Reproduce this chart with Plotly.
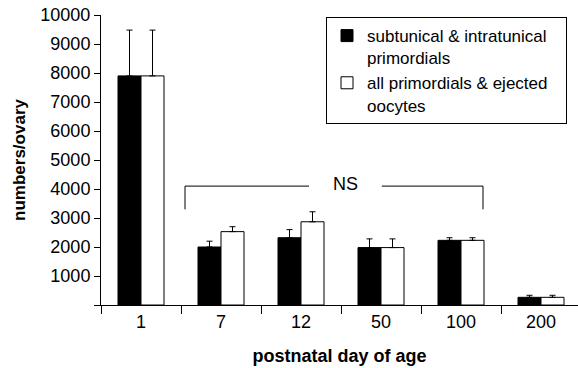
import plotly.graph_objects as go

categories = ["1", "7", "12", "50", "100", "200"]
subtunical = [7900, 2000, 2320, 1980, 2230, 265]
subtunical_err = [1580, 200, 280, 300, 90, 70]
all_primordials = [7900, 2530, 2870, 1980, 2230, 265]
all_primordials_err = [1580, 170, 345, 300, 90, 70]
y_ticks = [0, 1000, 2000, 3000, 4000, 5000, 6000, 7000, 8000, 9000, 10000]
y_ticklabels = [""] + [str(v) for v in y_ticks[1:]]

FONT = "Liberation Sans, Arial, Helvetica, sans-serif"
PAD = "&nbsp;" * 3

fig = go.Figure()
fig.add_trace(go.Bar(
    x=categories, y=subtunical, name="subtunical & intratunical" + PAD + "<br>primordials",
    marker=dict(color="black", line=dict(color="black", width=1)),
    error_y=dict(type="data", array=subtunical_err, arrayminus=[0]*6, symmetric=False,
                 color="black", thickness=1, width=3),
))
fig.add_trace(go.Bar(
    x=categories, y=all_primordials, name="all primordials & ejected<br>oocytes",
    marker=dict(color="white", line=dict(color="black", width=1)),
    error_y=dict(type="data", array=all_primordials_err, arrayminus=[0]*6, symmetric=False,
                 color="black", thickness=1, width=3),
))

# NS bracket
line = dict(color="black", width=1)
fig.add_shape(type="line", x0=0.55, x1=0.55, y0=3300, y1=4100, line=line)
fig.add_shape(type="line", x0=0.55, x1=2.1, y0=4100, y1=4100, line=line)
fig.add_shape(type="line", x0=3.01, x1=4.275, y0=4100, y1=4100, line=line)
fig.add_shape(type="line", x0=4.275, x1=4.275, y0=3300, y1=4100, line=line)
fig.add_annotation(x=2.55, y=4180, text="NS", showarrow=False,
                   font=dict(size=18, color="black", family=FONT))

fig.update_layout(
    width=578, height=368,
    margin=dict(l=101, r=0, t=15, b=63),
    paper_bgcolor="white", plot_bgcolor="white",
    font=dict(family=FONT, size=18, color="black"),
    barmode="group", bargap=0.425, bargroupgap=0,
    showlegend=True,
    legend=dict(x=0.4717, y=0.993, xanchor="left", yanchor="top",
                bordercolor="black", borderwidth=1, bgcolor="white",
                font=dict(size=17, family=FONT), valign="top",
                traceorder="normal", itemwidth=30),
)
fig.update_xaxes(
    type="category", range=[-0.5, 5.4625],
    showline=True, linecolor="black", linewidth=1,
    ticks="outside", tickson="boundaries", ticklen=8, tickcolor="black",
    showgrid=False, zeroline=False, tickfont=dict(size=18),
    title=dict(text="<b>postnatal day of age</b>", font=dict(size=18), standoff=18),
)
fig.update_yaxes(
    range=[0, 10000], tickvals=y_ticks, ticktext=y_ticklabels,
    showline=True, linecolor="black", linewidth=1,
    ticks="outside", ticklen=6, tickcolor="black",
    showgrid=False, zeroline=False, tickfont=dict(size=18),
    title=dict(text="<b>numbers/ovary</b>", font=dict(size=17), standoff=10),
)

fig.write_html("out.html", config={"displayModeBar": False},
               post_script="document.body.style.margin='0px';document.body.style.overflow='hidden';")
